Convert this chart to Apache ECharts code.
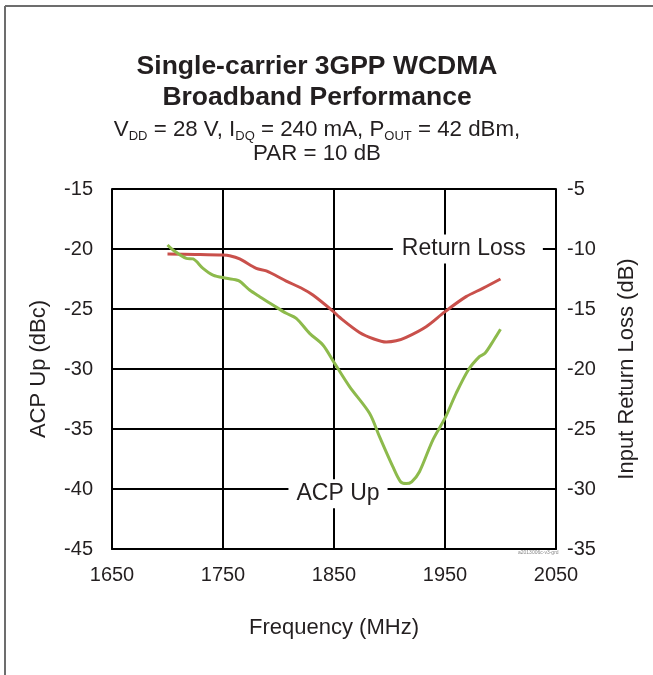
<!DOCTYPE html>
<html>
<head>
<meta charset="utf-8">
<script src="https://cdn.jsdelivr.net/npm/echarts@6/dist/echarts.min.js"></script>
<style>
html,body{margin:0;padding:0;background:#fff;}
#c{width:653px;height:675px;}
</style>
</head>
<body>
<div id="c"></div>
<script>
// ---- data ----
const xTicks = [1650, 1750, 1850, 1950, 2050];
const leftTicks = [-45, -40, -35, -30, -25, -20, -15];
const rightTicks = [-35, -30, -25, -20, -15, -10, -5];

const rlFreq = [1700, 1725, 1750, 1756, 1765, 1780, 1789, 1807, 1822, 1831, 1849, 1855, 1873, 1886, 1897, 1906, 1915, 1933, 1950, 1969, 1984, 2000];
const rlValues = [-10.42, -10.45, -10.5, -10.56, -10.83, -11.61, -11.83, -12.67, -13.33, -13.83, -15.17, -15.69, -16.95, -17.5, -17.75, -17.65, -17.36, -16.47, -15.22, -13.97, -13.28, -12.5];

const acpFreq = [1700, 1705, 1717, 1723, 1732, 1741, 1753, 1764, 1774, 1783, 1795, 1807, 1816, 1828, 1840, 1850, 1864, 1882, 1891, 1903, 1910, 1915, 1920, 1927, 1939, 1950, 1960, 1971, 1981, 1986, 1994, 2000];
const acpValues = [-19.67, -20.08, -20.78, -20.83, -21.61, -22.17, -22.44, -22.64, -23.42, -23.97, -24.67, -25.36, -25.78, -27.03, -28.0, -29.45, -31.47, -33.69, -35.64, -38.14, -39.4, -39.55, -39.4, -38.56, -35.92, -34.1, -32.03, -30.08, -28.97, -28.69, -27.58, -26.69];

const annotations = [
  { name: 'Return Loss', freq: 1970.6, value: -20 },
  { name: 'ACP Up', freq: 1853.6, value: -40.4 }
];

const titleLines = ['Single-carrier 3GPP WCDMA', 'Broadband Performance'];

// ---- chart ----
const chart = echarts.init(document.getElementById('c'), null, { renderer: 'canvas' });
const txt = '#231f20';
const font = 'Liberation Sans, Arial, Helvetica, sans-serif';

const option = {
  backgroundColor: '#fff',
  animation: false,
  title: {
    left: 312,
    top: 46,
    textAlign: 'center',
    text: titleLines.join('\n'),
    textStyle: { fontFamily: font, fontSize: 26.5, fontWeight: 'bold', color: txt, lineHeight: 31 },
    itemGap: 5,
    subtext: '{n|V}{s|DD}{n| = 28 V, I}{s|DQ}{n| = 240 mA, P}{s|OUT}{n| = 42 dBm,}\n{n|PAR = 10 dB}',
    subtextStyle: {
      fontFamily: font, color: txt, fontSize: 22, lineHeight: 24,
      rich: {
        n: { fontFamily: font, fontSize: 22.3, lineHeight: 24, color: txt },
        s: { fontFamily: font, fontSize: 13, color: txt, verticalAlign: 'top', padding: [12, 0, 0, 0] }
      }
    }
  },
  grid: { left: 112, right: 97, top: 189, bottom: 126, containLabel: false },
  xAxis: {
    type: 'value', min: 1650, max: 2050, interval: 100,
    name: 'Frequency (MHz)', nameLocation: 'middle', nameGap: 68,
    nameTextStyle: { fontFamily: font, fontSize: 22, color: txt },
    axisLine: { show: true, lineStyle: { color: '#000', width: 2 } },
    axisTick: { show: false },
    axisLabel: { fontFamily: font, fontSize: 20, color: txt, margin: 16,
      formatter: v => String(v) },
    splitLine: { show: true, lineStyle: { color: '#000', width: 2 } }
  },
  yAxis: [
    {
      type: 'value', min: -45, max: -15, interval: 5, position: 'left',
      name: 'ACP Up (dBc)', nameLocation: 'middle', nameGap: 62, nameRotate: 90,
      nameTextStyle: { fontFamily: font, fontSize: 22, color: txt },
      axisLine: { show: true, lineStyle: { color: '#000', width: 2 } },
      axisTick: { show: false },
      axisLabel: { fontFamily: font, fontSize: 20, color: txt, margin: 19 },
      splitLine: { show: true, lineStyle: { color: '#000', width: 2 } }
    },
    {
      type: 'value', min: -35, max: -5, interval: 5, position: 'right',
      name: 'Input Return Loss (dB)', nameLocation: 'middle', nameGap: 60, nameRotate: 90,
      nameTextStyle: { fontFamily: font, fontSize: 22, color: txt },
      axisLine: { show: true, lineStyle: { color: '#000', width: 2 } },
      axisTick: { show: false },
      axisLabel: { fontFamily: font, fontSize: 20, color: txt, margin: 11 },
      splitLine: { show: false }
    }
  ],
  series: [
    {
      name: 'Return Loss', type: 'line', yAxisIndex: 1, showSymbol: false, smooth: 0.3,
      lineStyle: { color: '#c9504b', width: 3 },
      data: rlFreq.map((f, i) => [f, rlValues[i]]),
      z: 3
    },
    {
      name: 'ACP Up', type: 'line', yAxisIndex: 0, showSymbol: false, smooth: 0.3,
      lineStyle: { color: '#8dba4c', width: 3 },
      data: acpFreq.map((f, i) => [f, acpValues[i]]),
      z: 4
    },
    {
      name: 'labels', type: 'scatter', yAxisIndex: 0, symbolSize: 0, silent: true, z: 5,
      itemStyle: { opacity: 1 },
      data: annotations.map((a, i) => ({
        name: a.name, value: [a.freq, a.value],
        label: { padding: i === 0 ? [3, 17, 3, 9] : [3, 8, 3, 8] }
      })),
      label: {
        show: true, position: 'inside', formatter: p => p.name, opacity: 1,
        fontFamily: font, fontSize: 23, color: txt,
        backgroundColor: '#fff'
      }
    }
  ],
  graphic: [
    { type: 'line', shape: { x1: 5, y1: 6, x2: 653, y2: 6 }, style: { stroke: '#6d6d6d', lineWidth: 2 } },
    { type: 'line', shape: { x1: 5, y1: 6, x2: 5, y2: 675 }, style: { stroke: '#6d6d6d', lineWidth: 2 } },
    { type: 'text', left: 518, top: 550, style: { text: 'a2013006c-v3-grd', fontSize: 5, fill: '#888', fontFamily: font } }
  ]
};
chart.setOption(option);
</script>
</body>
</html>
